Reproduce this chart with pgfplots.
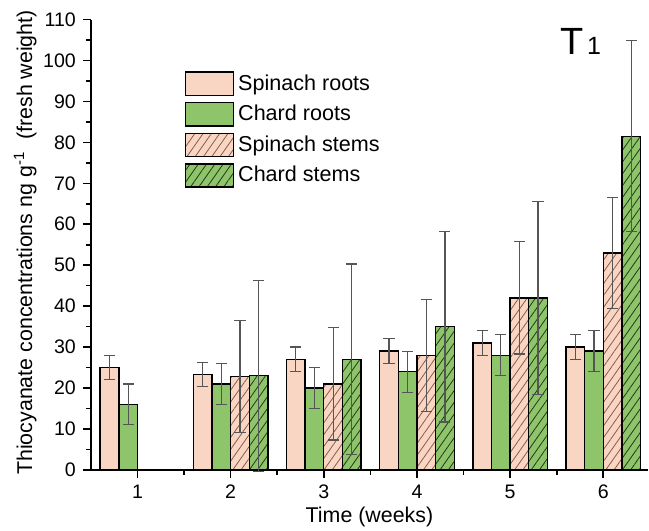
\documentclass[border=0pt]{standalone}
\usepackage{pgfplots}
\pgfplotsset{compat=1.18}
\usepackage{fontspec}
\setmainfont{Liberation Sans}
\usetikzlibrary{patterns.meta}
\definecolor{peach}{RGB}{249,214,196}
\definecolor{chard}{RGB}{142,196,106}
\definecolor{peachhatch}{RGB}{140,90,75}
\definecolor{chardhatch}{RGB}{35,55,25}
\definecolor{errgray}{RGB}{85,85,85}
\begin{document}
\begin{tikzpicture}
\begin{axis}[
  name=ax,
  scale only axis,
  width=279pt, height=225.5pt,
  xmin=0.5, xmax=6.48,
  ymin=0, ymax=110,
  axis x line*=bottom, axis y line*=left,
  axis line style={line width=1pt},
  xtick={1,2,3,4,5,6},
  minor xtick={1.5,2.5,3.5,4.5,5.5},
  ytick={0,10,...,110},
  minor ytick={5,15,...,105},
  tick align=outside,
  major tick length=4pt, minor tick length=2.5pt,
  tick style={line width=0.8pt, black},
  /pgf/number format/assume math mode=true,
  tick label style={font=\fontsize{9.8}{11}\selectfont},
  xlabel={Time (weeks)},
  ylabel={Thiocyanate concentrations ng g\textsuperscript{-1}\ \ (fresh weight)},
  label style={font=\fontsize{10.7}{12}\selectfont},
  xlabel style={at={(axis description cs:0.5,-0.105)}, anchor=center},
  ylabel style={at={(axis description cs:-0.118,0.505)}, anchor=center},
  ybar, bar width=0.2,
  clip=false,
  legend style={at={(axis description cs:0.168,0.888)}, anchor=north west, draw=none, fill=none,
    font=\fontsize{10.8}{12}\selectfont, inner sep=0pt, row sep=2pt,
    /tikz/every even column/.append style={column sep=3.5pt}},
  legend cell align=left,
  legend image code/.code={\draw[#1, line width=0.7pt] (0pt,-5.8pt) rectangle (24pt,5.8pt);},
  error bars/error bar style={errgray, line width=0.6pt},
  error bars/error mark options={rotate=90, mark size=2.8pt, errgray, line width=0.6pt},
]
% Spinach roots
\addplot[draw=black, line width=0.7pt, fill=peach, bar shift=-0.3,
  error bars/.cd, y dir=both, y explicit]
 coordinates {(1,25) +- (0,3) (2,23.3) +- (0,3) (3,27) +- (0,3) (4,29) +- (0,3) (5,31) +- (0,3) (6,30) +- (0,3)};
% Chard roots
\addplot[draw=black, line width=0.7pt, fill=chard, bar shift=-0.1,
  error bars/.cd, y dir=both, y explicit]
 coordinates {(1,16) +- (0,5) (2,21) +- (0,5) (3,20) +- (0,5) (4,24) +- (0,5) (5,28) +- (0,5) (6,29) +- (0,5)};
% Spinach stems
\addplot[draw=black, line width=0.7pt, fill=peach, bar shift=0.1,
  postaction={pattern={Lines[angle=55,distance=3.4pt,line width=0.4pt]}, pattern color=peachhatch},
  error bars/.cd, y dir=both, y explicit]
 coordinates {(2,22.8) +- (0,13.7) (3,21) +- (0,13.7) (4,28) +- (0,13.7) (5,42) +- (0,13.7) (6,53) +- (0,13.6)};
% Chard stems
\addplot[draw=black, line width=0.7pt, fill=chard, bar shift=0.3,
  postaction={pattern={Lines[angle=55,distance=3.4pt,line width=0.4pt]}, pattern color=chardhatch},
  error bars/.cd, y dir=both, y explicit]
 coordinates {(2,23) +- (0,23.3) (3,27) +- (0,23.3) (4,35) +- (0,23.3) (5,42) +- (0,23.5) (6,81.5) +- (0,23.3)};
\legend{Spinach roots, Chard roots, Spinach stems, Chard stems}
\node[anchor=base west, inner sep=0pt] at (axis description cs:0.843,0.922)
  {\fontsize{19}{19}\selectfont T\hspace{1.5pt}\fontsize{12.5}{12.5}\selectfont 1};
\end{axis}
\pgfresetboundingbox
\path ([shift={(-45.5pt,-30.15pt)}]ax.south west) rectangle ([shift={(0.5pt,9.8pt)}]ax.north east);
\end{tikzpicture}
\end{document}
